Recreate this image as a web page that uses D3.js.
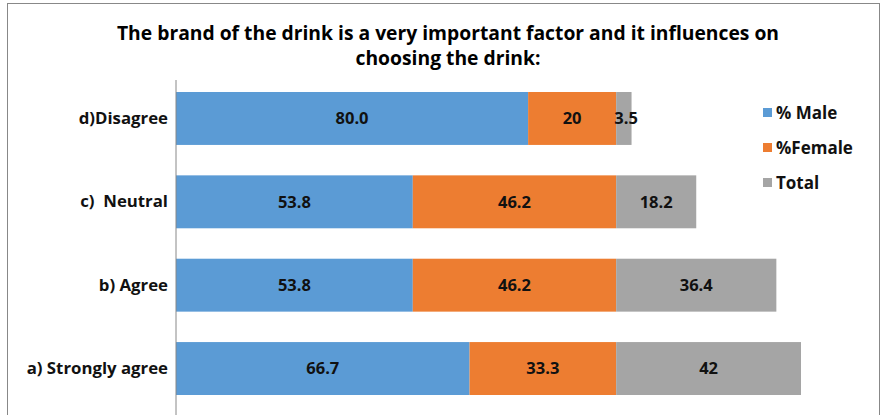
<!DOCTYPE html>
<html>
<head>
<meta charset="utf-8">
<script src="https://cdn.jsdelivr.net/npm/d3@7"></script>
<style>
	body	{ margin: 0; background: #fff; }
	svg	{ display: block; font-family: "Open Sans", Lato, sans-serif; }
</style>
</head>
<body>
<div id="chart"></div>
<script>

///////////////////////////////////////////////////////////////////////

let categories = [ "d)Disagree", "c)  Neutral", "b) Agree", "a) Strongly agree" ];
let series_names = [ "% Male", "%Female", "Total" ];
let male = [ 80.0, 53.8, 53.8, 66.7 ];
let female = [ 20, 46.2, 46.2, 33.3 ];
let total = [ 3.5, 18.2, 36.4, 42 ];
let labels_male = [ "80.0", "53.8", "53.8", "66.7" ];
let labels_female = [ "20", "46.2", "46.2", "33.3" ];
let labels_total = [ "3.5", "18.2", "36.4", "42" ];
let colours = [ "#5b9bd5", "#ed7d31", "#a5a5a5" ];
let title_lines = [ "The brand of the drink is a very important factor and it influences on", "choosing the drink:" ];

///////////////////////////////////////////////////////////////////////

let width = 881, height = 415;
let font = "'Open Sans', Lato, sans-serif";

let svg = d3.select( "#chart" )
	.append( "svg" )
		.attr( "width", width )
		.attr( "height", height );

// frame
svg.append( "rect" )
	.attr( "x", 7.5 ).attr( "y", 3.5 )
	.attr( "width", width - 9 ).attr( "height", height + 10 )
	.attr( "fill", "none" )
	.attr( "stroke", "#888" )
	.attr( "stroke-width", 1 );

svg.append( "g" )
	.selectAll( "text" )
	.data( title_lines )
	.join( "text" )
		.attr( "x", 448 )
		.attr( "y", ( d, i ) => 40 + i * 25 )
		.attr( "text-anchor", "middle" )
		.attr( "font-size", 19.3 )
		.attr( "font-weight", "bold" )
		.attr( "fill", "#000" )
		.text( d => d );

let x = d3.scaleLinear()
	.domain( [ 0, 142 ] )
	.range( [ 176, 801 ] );

let y = d3.scaleBand()
	.domain( categories )
	.range( [ 77, 410 ] )
	.paddingInner( 0.365 )
	.paddingOuter( 0.18 );

let stack_rows = categories.map( ( c, i ) => ( { cat: c, m: male[ i ], f: female[ i ], t: total[ i ] } ) );
let stacked = d3.stack().keys( [ "m", "f", "t" ] )( stack_rows );
let label_sets = [ labels_male, labels_female, labels_total ];

let layers = svg.append( "g" )
	.selectAll( "g" )
	.data( stacked )
	.join( "g" )
		.attr( "fill", ( d, i ) => colours[ i ] );

layers.selectAll( "rect" )
	.data( d => d )
	.join( "rect" )
		.attr( "x", d => x( d[ 0 ] ) )
		.attr( "y", d => y( d.data.cat ) )
		.attr( "width", d => x( d[ 1 ] ) - x( d[ 0 ] ) )
		.attr( "height", y.bandwidth() );

// value labels
layers.each( function( s, si )	{

	d3.select( this ).selectAll( "text" )
		.data( s )
		.join( "text" )
			.attr( "x", ( d, i ) => si == 2 && i == 0 ? x( d[ 0 ] ) + 10 : ( x( d[ 0 ] ) + x( d[ 1 ] ) ) / 2 )
			.attr( "y", d => y( d.data.cat ) + y.bandwidth() / 2 )
			.attr( "dy", "0.36em" )
			.attr( "text-anchor", "middle" )
			.attr( "font-size", 16.5 )
			.attr( "font-weight", "bold" )
			.attr( "fill", "#111" )
			.text( ( d, i ) => label_sets[ si ][ i ] );
} );

// category axis
let y_axis = svg.append( "g" )
	.attr( "transform", "translate(176,0)" )
	.call( d3.axisLeft( y ).tickSize( 0 ).tickPadding( 8 ) );

y_axis.select( ".domain" )
	.attr( "d", "M0,80V415" )
	.attr( "stroke", "#888" );

y_axis.selectAll( "text" )
	.attr( "font-family", font )
	.attr( "font-size", 16.8 )
	.attr( "font-weight", "bold" )
	.attr( "fill", "#111" )
	.style( "white-space", "pre" );

// legend
let legend = svg.append( "g" )
	.selectAll( "g" )
	.data( series_names )
	.join( "g" )
		.attr( "transform", ( d, i ) => "translate(763," + ( 108 + i * 35 ) + ")" );

legend.append( "rect" )
	.attr( "width", 9 ).attr( "height", 9 )
	.attr( "fill", ( d, i ) => colours[ i ] );

legend.append( "text" )
	.attr( "x", 13 )
	.attr( "y", 4.5 )
	.attr( "dy", "0.36em" )
	.attr( "font-size", 17 )
	.attr( "font-weight", "bold" )
	.attr( "fill", "#111" )
	.text( d => d );

</script>
</body>
</html>
